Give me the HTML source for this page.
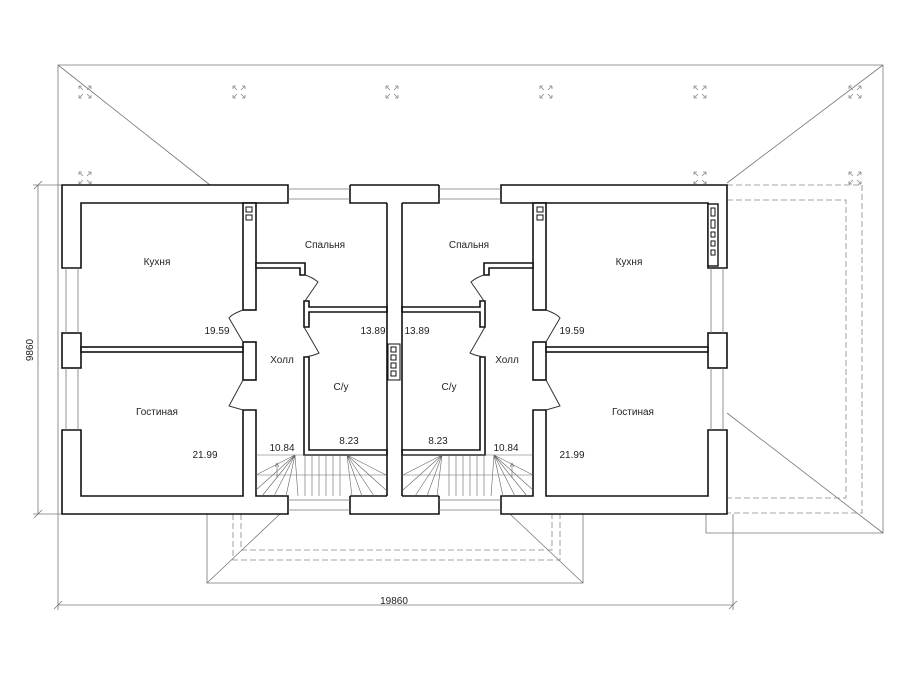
<!DOCTYPE html>
<html><head><meta charset="utf-8"><style>
html,body{margin:0;padding:0;background:#fff;}
svg{display:block;}
text{font-family:"Liberation Sans","DejaVu Sans",sans-serif;font-size:10px;fill:#222;}
</style></head><body>
<svg width="899" height="675" viewBox="0 0 899 675" xmlns="http://www.w3.org/2000/svg">
<defs>
<g id="mk" stroke="#888" stroke-width="0.8" fill="none">
<path d="M-6,-6 L-2,-2 M-6,-6 L-6,-3 M-6,-6 L-3,-6"/>
<path d="M6,-6 L2,-2 M6,-6 L6,-3 M6,-6 L3,-6"/>
<path d="M-6,6 L-2,2 M-6,6 L-6,3 M-6,6 L-3,6"/>
<path d="M6,6 L2,2 M6,6 L6,3 M6,6 L3,6"/>
</g>
<g id="half">
<g fill="#fff" stroke="#111" stroke-width="1.6">
<path d="M62,185 L288,185 L288,203 L256,203 L256,203 L81,203 L81,268 L62,268 Z"/>
<rect x="62" y="333" width="19" height="35"/>
<path d="M62,430 L81,430 L81,496 L243,496 L243,410 L256,410 L256,496 L288,496 L288,514 L62,514 Z"/>
<rect x="243" y="203" width="13" height="107"/>
<rect x="243" y="342" width="13" height="38"/>
<rect x="81" y="347" width="162" height="5"/>
<path d="M256,263 L305,263 L305,275 L300,275 L300,268 L256,268 Z"/>
<path d="M304,301 L309,301 L309,307 L387,307 L387,312 L309,312 L309,327 L304,327 Z"/>
<path d="M304,357 L309,357 L309,450 L387,450 L387,455 L304,455 Z"/>
<path d="M350,185 L394.5,185 L394.5,203 L350,203 Z" stroke="none"/>
<path d="M350,185 L394.5,185 M350,185 L350,203 L387,203"/>
<path d="M350,496 L387,496 M350,496 L350,514 L394.5,514" />
</g>
<path d="M387,203 L387,496" stroke="#111" stroke-width="1.6" fill="none"/>
<g fill="none" stroke="#111" stroke-width="1">
<rect x="246" y="207" width="6" height="5"/><rect x="246" y="215" width="6" height="5"/>
</g>
<g stroke="#777" stroke-width="0.8" fill="none">
<path d="M66,268 L66,333 M78,268 L78,333 M66,368 L66,430 M78,368 L78,430"/>
<path d="M288,189 L350,189 M288,199 L350,199 M288,500 L350,500 M288,510 L350,510"/>
</g>
<g stroke="#333" stroke-width="1" fill="none">
<path d="M243,310 Q232,314 229,318 L243,342"/>
<path d="M243,380 L229,406 Q236,408 243,410"/>
<path d="M305,275 Q312,277 318,282 L305,301"/>
<path d="M304,327 L319,353 Q313,356 304,357"/>
</g>
<g stroke="#666" stroke-width="0.6" fill="none">
<path d="M256,455 L387,455"/>
<path d="M256,475 L387,475"/>
<path d="M305,455 L305,496 M312,455 L312,496 M319,455 L319,496 M326,455 L326,496 M333,455 L333,496 M340,455 L340,496"/>
<path d="M295,455 L256,475 M295,455 L256,490 M295,455 L262,496 M295,455 L274,496 M295,455 L286,496 M295,455 L298,496"/>
<path d="M347,455 L352,496 M347,455 L362,496 M347,455 L374,496 M347,455 L386,490 M347,455 L386,475"/>
<path d="M277,478 L277,464 M275,467 L277,463 L279,467"/>
</g>
</g>
</defs>

<g stroke="#777" stroke-width="0.8" fill="none">
<path d="M58,610 L58,65 L883,65 L883,533 L706,533 L706,514"/>
<path d="M58,65 L210,185 M883,65 L727,183 M727,413 L883,533"/>
<path d="M733,514 L733,610"/>
<path d="M207,513 L207,583 L583,583 L583,513 M207,583 L280,514 M583,583 L510,514"/>
<path d="M38,185 L38,514 M33,185 L62,185 M33,514 L62,514 M34,189 L42,181 M34,518 L42,510"/>
<path d="M58,605 L733,605 M54,609 L62,601 M729,609 L737,601"/>
</g>
<g stroke="#888" stroke-width="0.8" fill="none" stroke-dasharray="6,3">
<path d="M727,185 L862,185 L862,513 L727,513"/>
<path d="M727,200 L846,200 L846,498 L727,498"/>
<path d="M233,514 L233,560 L560,560 L560,514"/>
<path d="M241,514 L241,550 L552,550 L552,514"/>
</g>

<use href="#half"/>
<use href="#half" transform="translate(789,0) scale(-1,1)"/>
<g fill="none" stroke="#111" stroke-width="1">
<rect x="708" y="204" width="10" height="62" fill="#fff" stroke-width="1.4"/>
<rect x="711" y="208" width="4" height="8"/><rect x="711" y="220" width="4" height="8"/>
<rect x="711" y="232" width="4" height="5"/><rect x="711" y="241" width="4" height="5"/><rect x="711" y="250" width="4" height="5"/>
<rect x="388" y="344" width="12" height="36" fill="#fff"/>
<rect x="391" y="347" width="5" height="5"/><rect x="391" y="355" width="5" height="5"/><rect x="391" y="363" width="5" height="5"/><rect x="391" y="371" width="5" height="5"/>
</g>

<use href="#mk" x="85" y="92"/><use href="#mk" x="239" y="92"/><use href="#mk" x="392" y="92"/>
<use href="#mk" x="546" y="92"/><use href="#mk" x="700" y="92"/><use href="#mk" x="855" y="92"/>
<use href="#mk" x="85" y="178"/><use href="#mk" x="700" y="178"/><use href="#mk" x="855" y="178"/>

<g text-anchor="middle">
<text x="157" y="265">Кухня</text>
<text x="325" y="248">Спальня</text>
<text x="469" y="248">Спальня</text>
<text x="629" y="265">Кухня</text>
<text x="282" y="363">Холл</text>
<text x="507" y="363">Холл</text>
<text x="341" y="390">С/у</text>
<text x="449" y="390">С/у</text>
<text x="157" y="415">Гостиная</text>
<text x="633" y="415">Гостиная</text>
<text x="217" y="334">19.59</text>
<text x="373" y="334">13.89</text>
<text x="417" y="334">13.89</text>
<text x="572" y="334">19.59</text>
<text x="205" y="458">21.99</text>
<text x="282" y="451">10.84</text>
<text x="349" y="444">8.23</text>
<text x="438" y="444">8.23</text>
<text x="506" y="451">10.84</text>
<text x="572" y="458">21.99</text>
<text x="394" y="604">19860</text>
<text x="0" y="0" transform="translate(33,350) rotate(-90)">9860</text>
</g>
</svg>
</body></html>
